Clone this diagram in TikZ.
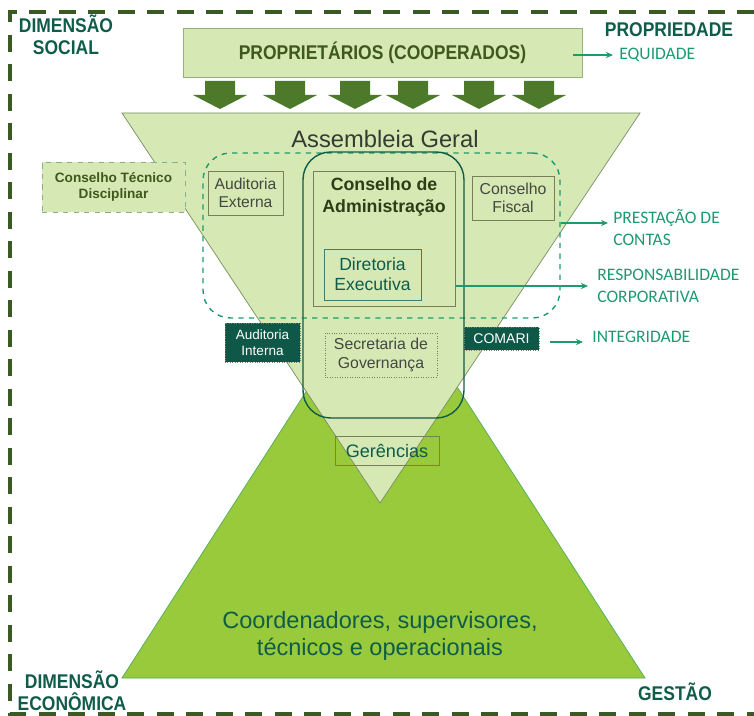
\documentclass[tikz,border=0pt]{standalone}
\usepackage{fontspec}
\setmainfont{Liberation Sans}
\newfontfamily\narrowfont[FakeStretch=0.88]{Liberation Sans}
\newfontfamily\calfont{Carlito}
\usetikzlibrary{arrows,arrows.meta}
\usetikzlibrary{calc}
\definecolor{rahmen}{RGB}{58,90,36}
\definecolor{hellgruen}{RGB}{214,232,180}
\definecolor{hellrand}{RGB}{150,178,120}
\definecolor{sattgruen}{RGB}{153,202,60}
\definecolor{pfeilgruen}{RGB}{76,122,42}
\definecolor{petrol}{RGB}{16,92,74}
\definecolor{tuerkis}{RGB}{30,154,110}
\definecolor{oliv}{RGB}{62,88,32}
\definecolor{grautext}{RGB}{64,74,64}
\definecolor{boxline}{RGB}{120,128,90}
\colorlet{petrol-dunkel}{petrol!95!black}

\tikzset{
    box/.style={draw=boxline, thin, inner sep=0pt, align=center},
    darkbox/.style={fill=petrol-dunkel, draw=boxline, densely dotted, inner sep=0pt, align=center, text=white, font=\fontsize{7.7}{9.3}\selectfont},
    titel/.style={font=\narrowfont\bfseries\fontsize{11.3}{12.8}\selectfont, text=petrol, align=center, inner sep=0pt},
    wert/.style={font=\calfont\fontsize{10}{12.5}\selectfont, text=tuerkis, align=left, anchor=west, inner sep=0pt},
    conn/.style={tuerkis, semithick, -{Stealth[length=4pt,width=3.5pt]}},
}

\begin{document}
\begin{tikzpicture}[x=0.02cm, y=-0.02cm]

    \useasboundingbox (0,0) rectangle (754,716);

    % rahmen
    \draw[rahmen, line width=1.9pt, dash pattern=on 0.34cm off 0.25cm] (754,12) -- (10,12) -- (10,714) -- (754,714);

    % dreiecke
    \draw[fill=sattgruen, draw=tuerkis!60!sattgruen, thin] (383,272) -- (645,678) -- (122,678) -- cycle;
    \draw[fill=hellgruen, draw=hellrand!80!black, thin] (122,113) -- (640,113) -- (380,503) -- cycle;

    \node[titel] (dimsozial) at (66,35) {DIMENSÃO\\SOCIAL};
    \node[titel] (eigentum) at (669,30) {PROPRIEDADE};
    \node[titel] (dimoeko) at (72,691) {DIMENSÃO\\ECONÔMICA};
    \node[titel] (gestao) at (675,692) {GESTÃO};

    \node[fill=hellgruen, draw=hellrand, minimum width=7.98cm, minimum height=0.98cm, font=\narrowfont\bfseries\fontsize{11.3}{12}\selectfont, text=oliv] (eigner) at (382.5,52.5) {PROPRIETÁRIOS (COOPERADOS)};

    \foreach \x in {220,290,355,413,479,539}{
        \fill[pfeilgruen] (\x-15,81) -- (\x+15,81) -- (\x+15,95) -- (\x+27,95) -- (\x,109) -- (\x-27,95) -- (\x-15,95) -- cycle;
    }

    \node[font=\fontsize{13.5}{14}\selectfont, text=grautext!80!black, inner sep=0pt] (assembleia) at (385,139) {Assembleia Geral};

    % governanca
    \node[draw=tuerkis, thick, dashed, rounded corners=0.55cm, minimum width=7.14cm, minimum height=3.3cm] (gov) at (381.5,235.5) {};
    \node[draw=petrol, thick, rounded corners=0.55cm, minimum width=3.22cm, minimum height=5.32cm] (kern) at (383.5,285) {};

    \node[fill=hellgruen, draw=petrol!40!hellgruen, dashed, minimum width=2.86cm, minimum height=1.0cm, font=\bfseries\fontsize{7.75}{9.3}\selectfont, text=oliv, align=center] (ctd) at (113.5,187) {Conselho Técnico\\Disciplinar};

    \node[box, minimum width=1.5cm, minimum height=0.88cm, font=\fontsize{8.9}{10.5}\selectfont, text=grautext] (extern) at (245.5,193) {Auditoria\\Externa};
    \node[box, minimum width=2.84cm, minimum height=2.7cm] (rat) at (384,238.5) {};
    \node[font=\bfseries\fontsize{10.1}{12.5}\selectfont, text=oliv!70!black, align=center, inner sep=0pt] (ratname) at (384,197) {Conselho de\\Administração};
    \node[box, draw=petrol!80, minimum width=1.94cm, minimum height=1.02cm, font=\fontsize{10}{11.5}\selectfont, text=petrol] (direktion) at (372.5,274.5) {Diretoria\\Executiva};
    \node[box, minimum width=1.64cm, minimum height=0.88cm, font=\fontsize{9}{10.5}\selectfont, text=grautext] (fiskal) at (513,198) {Conselho\\Fiscal};
    \node[box, densely dotted, minimum width=2.24cm, minimum height=0.88cm, font=\fontsize{9}{11}\selectfont, text=grautext] (sekretariat) at (381,355) {Secretaria de\\Governança};
    \node[darkbox, minimum width=1.5cm, minimum height=0.78cm] (intern) at (262.5,342.5) {Auditoria\\Interna};
    \node[darkbox, minimum width=1.5cm, minimum height=0.46cm, font=\fontsize{8}{9}\selectfont] (comari) at (501.5,338.5) {COMARI};
    \node[box, minimum width=2.08cm, minimum height=0.58cm, font=\fontsize{10.3}{11}\selectfont, text=petrol] (gerencias) at (387,450.5) {Gerências};

    \node[font=\fontsize{13.4}{15.3}\selectfont, text=petrol, align=center, inner sep=0pt] (basis) at (380,636) {Coordenadores, supervisores,\\técnicos e operacionais};

    % werte
    \node[wert] (equidade) at (619,55) {EQUIDADE};
    \node[wert] (prestacao) at (613,228) {PRESTAÇÃO DE\\CONTAS};
    \node[wert] (verantwortung) at (597,286) {RESPONSABILIDADE\\CORPORATIVA};
    \node[wert] (integridade) at (592,337) {INTEGRIDADE};

    \draw[conn] ([xshift=-0.18cm]eigner.east |- equidade.west) -- ([xshift=-0.12cm]equidade.west);
    \draw[conn] ([yshift=0.1cm]gov.east |- prestacao.west) -- ([yshift=0.1cm,xshift=-0.1cm]prestacao.west);
    \draw[conn] (rat.east |- verantwortung.west) -- ([xshift=-0.18cm]verantwortung.west);
    \draw[conn, shorten <=0.22cm] (comari.east |- 0,342) -- ([xshift=-0.18cm]integridade.west |- 0,342);

\end{tikzpicture}
\end{document}
